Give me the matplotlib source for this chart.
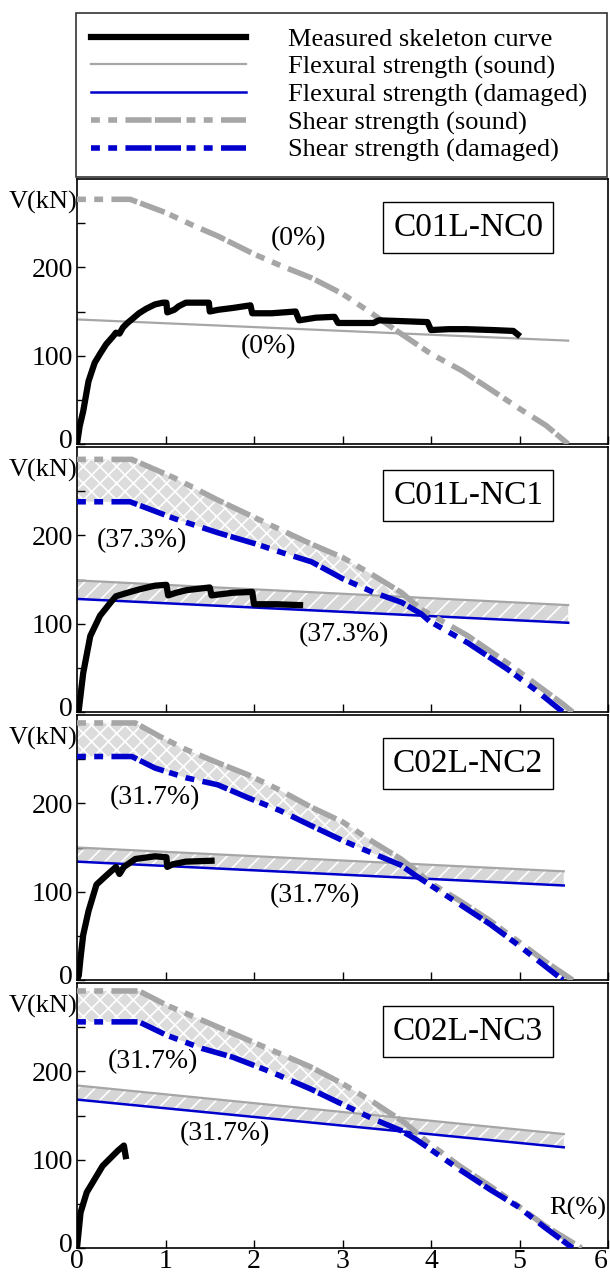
import numpy as np
import matplotlib
matplotlib.use("Agg")
import matplotlib.pyplot as plt
from matplotlib.transforms import ScaledTranslation

plt.rcParams['font.family'] = ['Liberation Serif', 'DejaVu Serif']
plt.rcParams['hatch.linewidth'] = 1.2

# nombres de los especimenes y porcentajes de dano
especimenes = ['C01L-NC0', 'C01L-NC1', 'C02L-NC2', 'C02L-NC3']
etiqueta_corte = ['(0%)', '(37.3%)', '(31.7%)', '(31.7%)']
etiqueta_flexion = ['(0%)', '(37.3%)', '(31.7%)', '(31.7%)']
pos_corte = [(2.5, 233), (0.73, 194), (0.88, 206), (0.86, 211)]
pos_flexion = [(2.16, 110), (3.02, 88), (2.69, 95), (1.67, 129)]
fin_banda_corte = [None, 3.9, 3.9, 3.85]

# curva esqueleto medida R(%), V(kN)
med_R = [
    [0, 0.03, 0.07, 0.13, 0.2, 0.26, 0.33, 0.40, 0.44, 0.48, 0.52, 0.57, 0.63, 0.70, 0.78, 0.88, 0.97,
     1.01, 1.02, 1.10, 1.15, 1.23, 1.35, 1.49, 1.50, 1.60, 1.76, 1.96, 1.98, 2.20, 2.47, 2.51, 2.70,
     2.91, 2.95, 3.20, 3.35, 3.41, 3.70, 3.96, 4.0, 4.2, 4.4, 4.7, 4.93, 4.98],
    [0, 0.02, 0.07, 0.15, 0.26, 0.38, 0.44, 0.57, 0.71, 0.88, 1.01, 1.03, 1.12, 1.24, 1.5, 1.52, 1.76,
     1.98, 2.0, 2.25, 2.52],
    [0, 0.02, 0.04, 0.07, 0.13, 0.22, 0.35, 0.44, 0.48, 0.53, 0.66, 0.88, 1.01, 1.02, 1.08, 1.23, 1.52],
    [0, 0.02, 0.04, 0.11, 0.2, 0.29, 0.4, 0.46, 0.53, 0.55],
]
med_V = [
    [0, 20, 37, 71, 92, 102, 113, 121, 126, 125, 132, 137, 142, 148, 153, 158, 160,
     160, 149, 152, 156, 160, 160, 160, 150, 152, 154, 157, 148, 148, 150, 140, 143,
     144, 137, 137, 137, 140, 139, 138, 129, 130, 130, 129, 128, 124],
    [0, 2, 44, 86, 109, 124, 131, 135, 139, 143, 144, 132, 135, 138, 141, 132, 135,
     136, 122, 122, 121],
    [0, 5, 25, 51, 78, 108, 120, 128, 120, 128, 137, 140, 139, 128, 131, 134, 135],
    [0, 20, 40, 63, 78, 93, 104, 110, 116, 104],
]

# resistencia a flexion (sana / danada)
flex_R = [[0, 5.55], [0, 5.55], [0, 5.5], [0, 5.5]]
flex_sana = [[141, 117], [149, 121], [150, 123], [184, 129]]
flex_danada = [None, [128, 101], [134, 107], [168, 114]]

# resistencia a corte (sana)
corte_sana_R = [
    [0, 0.6, 1.0, 1.3, 1.6, 2.0, 2.3, 2.65, 3.0, 3.3, 3.6, 4.0, 4.35, 4.7, 5.0, 5.3, 5.55],
    [0, 0.62, 1.1, 1.59, 2.2, 2.65, 3.0, 3.36, 3.67, 3.89, 4.02, 4.42, 4.87, 5.18, 5.49, 5.6],
    [0, 0.66, 0.93, 1.23, 1.59, 1.94, 2.29, 2.64, 3.0, 3.35, 3.66, 3.88, 3.96, 4.32, 4.67, 4.98, 5.29, 5.6],
    [0, 0.7, 1.01, 1.41, 1.76, 2.2, 2.64, 3.0, 3.35, 3.7, 3.96, 4.32, 4.67, 4.98, 5.29, 5.7],
]
corte_sana_V = [
    [277, 277, 262, 248, 235, 215, 202, 188, 170, 150, 129, 102, 83, 60, 40, 21, 0],
    [286, 286, 265, 240, 211, 190, 175, 154, 135, 116, 109, 86, 55, 32, 9, 0],
    [291, 291, 276, 261, 246, 232, 215, 196, 179, 156, 137, 120, 112, 90, 67, 44, 21, 0],
    [291, 291, 275, 258, 243, 224, 205, 186, 165, 142, 120, 93, 70, 48, 25, 0],
]

# resistencia a corte (danada)
corte_danada_R = [
    None,
    [0, 0.6, 1.1, 1.59, 2.03, 2.3, 2.65, 3.0, 3.36, 3.67, 3.89, 3.98, 4.42, 4.87, 5.18, 5.49],
    [0, 0.62, 0.88, 1.23, 1.59, 1.94, 2.29, 2.64, 3.0, 3.35, 3.66, 3.83, 4.32, 4.67, 4.98, 5.49],
    [0, 0.7, 1.01, 1.41, 1.76, 2.2, 2.64, 2.95, 3.35, 3.66, 3.83, 4.32, 4.67, 4.98, 5.29, 5.6],
]
corte_danada_V = [
    None,
    [238, 238, 219, 203, 190, 181, 170, 151, 135, 124, 111, 103, 78, 48, 25, 0],
    [253, 253, 240, 229, 221, 206, 192, 175, 158, 143, 130, 118, 86, 63, 40, 0],
    [256, 256, 241, 226, 216, 199, 180, 165, 146, 133, 123, 89, 66, 47, 23, 0],
]

gris = '#a6a6a6'
azul = '#0000cc'
estilo_corte = (0, (1.6, 1.5, 1.6, 1.5, 4.7, 0.6, 4.7, 1.0))
fs = 19     # leyenda / etiquetas
fs_tick = 20
fs_txt = 20

fig = plt.figure(figsize=(6.1, 12.74), dpi=100)
W, H = 610, 1274
handles = None

for i in range(4):
    top = 179 + i * 268
    h = 265
    ax = fig.add_axes([77 / W, 1 - (top + h) / H, 531 / W, h / H])

    # bandas sombreadas
    if corte_danada_R[i] is not None:
        xs = np.linspace(0, fin_banda_corte[i], 200)
        ys1 = np.interp(xs, corte_sana_R[i], corte_sana_V[i])
        ys2 = np.interp(xs, corte_danada_R[i], corte_danada_V[i])
        ax.fill_between(xs, ys2, ys1, facecolor='#dcdcdc', edgecolor='white',
                        hatch='xx', linewidth=0, zorder=1)
    if flex_danada[i] is not None:
        xs = np.linspace(0, flex_R[i][-1], 200)
        ys1 = np.interp(xs, flex_R[i], flex_sana[i])
        ys2 = np.interp(xs, flex_R[i], flex_danada[i])
        ax.fill_between(xs, ys2, ys1, facecolor='#d6d6d6', edgecolor='white',
                        hatch='//', linewidth=0, zorder=1)

    l_fs, = ax.plot(flex_R[i], flex_sana[i], color=gris, lw=1.6, zorder=2)
    if flex_danada[i] is not None:
        l_fd, = ax.plot(flex_R[i], flex_danada[i], color=azul, lw=1.8, zorder=2)
    l_cs, = ax.plot(corte_sana_R[i], corte_sana_V[i], color=gris, lw=4,
                    linestyle=estilo_corte, dash_capstyle='butt', zorder=3)
    if corte_danada_R[i] is not None:
        l_cd, = ax.plot(corte_danada_R[i], corte_danada_V[i], color=azul, lw=4,
                        linestyle=estilo_corte, dash_capstyle='butt', zorder=3)
    l_m, = ax.plot(med_R[i], med_V[i], color='black', lw=4.5, zorder=4,
                   solid_joinstyle='round')
    if i == 1:
        handles = [l_m, l_fs, l_fd, l_cs, l_cd]

    ax.set_xlim(0, 6)
    ax.set_ylim(0, 300)
    ax.set_xticks(range(7))
    ax.set_yticks([0, 50, 100, 150, 200, 250])
    ax.set_yticklabels(['0', '', '100', '', '200', ''])
    ax.tick_params(direction='in', length=6, width=1, labelsize=fs_tick, pad=3,
                   labelbottom=(i == 3))
    ax.tick_params(axis='x', pad=1)
    if i == 3:
        ax.get_xticklabels()[-1].set_horizontalalignment('right')
    # el "0" del eje V va un poco mas arriba, como en el original
    lab0 = ax.yaxis.get_major_ticks()[0].label1
    lab0.set_transform(lab0.get_transform() + ScaledTranslation(0, 6 / 100, fig.dpi_scale_trans))
    for s in ax.spines.values():
        s.set_linewidth(1.2)

    ax.text(0, 274, 'V(kN)', ha='right', va='center', fontsize=fs)
    ax.text(pos_corte[i][0], pos_corte[i][1], etiqueta_corte[i], ha='center', va='center', fontsize=fs_txt)
    ax.text(pos_flexion[i][0], pos_flexion[i][1], etiqueta_flexion[i], ha='center', va='center', fontsize=fs_txt)
    ax.text(4.42, 245, especimenes[i], ha='center', va='center', fontsize=24,
            bbox=dict(boxstyle='square,pad=0.3', facecolor='white', edgecolor='black', linewidth=1))
    if i == 3:
        ax.text(5.66, 45, 'R(%)', ha='center', va='center', fontsize=fs)

etiquetas = ['Measured skeleton curve', 'Flexural strength (sound)', 'Flexural strength (damaged)',
             'Shear strength (sound)', 'Shear strength (damaged)']
leg = fig.legend(handles, etiquetas, loc='upper left',
                 bbox_to_anchor=(76 / W, 1 - 170 / H, 531 / W, 157 / H), mode='expand',
                 borderaxespad=0, fontsize=fs, frameon=True, fancybox=False,
                 edgecolor='black', handlelength=5.9, handletextpad=1.6,
                 labelspacing=0.15, borderpad=0.55)
leg.get_frame().set_linewidth(1.2)

fig.savefig('out.png', dpi=100)
